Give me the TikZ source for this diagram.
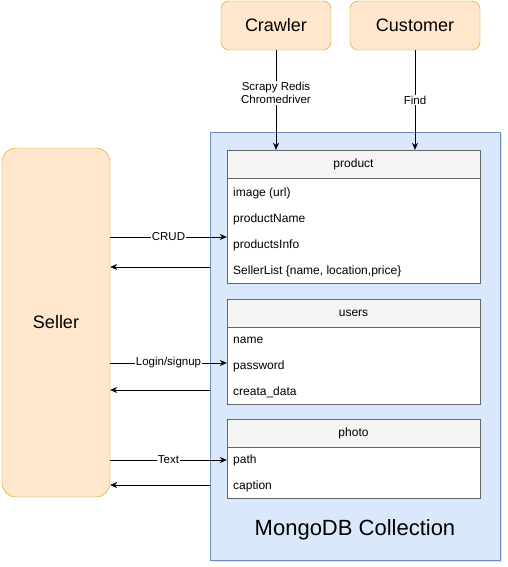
\documentclass[tikz,border=0pt]{standalone}
\usepackage{fontspec}
\setmainfont{Liberation Sans}
\usetikzlibrary{arrows.meta,positioning,shadows}
\definecolor{actorfill}{RGB}{255,230,204}
\definecolor{actordraw}{RGB}{215,155,0}
\definecolor{mongofill}{RGB}{218,232,252}
\definecolor{mongodraw}{RGB}{108,142,191}
\definecolor{headfill}{RGB}{245,245,245}
\definecolor{tabledraw}{RGB}{102,102,102}

\begin{document}
\begin{tikzpicture}[x=1pt,y=-1pt,
    actor/.style={draw=actordraw, fill=actorfill, rounded corners=8pt, inner sep=0pt, font=\fontsize{18}{21}\selectfont},
    table/.style={draw=tabledraw, fill=white, minimum width=253pt, inner sep=0pt},
    tablehead/.style={draw=tabledraw, fill=headfill, minimum width=253pt, minimum height=28pt, inner sep=0pt, font=\fontsize{12}{14}\selectfont},
    field/.style={anchor=west, inner sep=0pt, font=\fontsize{12}{14}\selectfont},
    lbl/.style={fill=white, inner sep=1pt, font=\fontsize{11.5}{13.5}\selectfont},
    arr/.style={-{Stealth[length=7pt,width=6pt]}, semithick}]

    \useasboundingbox (0,0) rectangle (507,567);

    % actors
    \node[actor, minimum width=110pt, minimum height=49pt] (crawler) at (276,25.5) {Crawler};
    \node[actor, minimum width=130pt, minimum height=49pt] (customer) at (415,25.5) {Customer};
    \node[actor, rounded corners=14pt, minimum width=108pt, minimum height=349pt] (seller) at (56,322.5) {Seller};

    % collection
    \node[draw=mongodraw, fill=mongofill, minimum width=290pt, minimum height=428pt, inner sep=0pt,
          drop shadow={opacity=0.25, shadow xshift=2pt, shadow yshift=-2pt}] (mongo) at (355,346) {};
    \node[font=\fontsize{22}{26}\selectfont] (mongoTitle) at (355,530) {MongoDB Collection};

    % product
    \node[table, minimum height=133pt] (product) at (353.5,216.5) {};
    \node[tablehead] (productHead) at (353.5,164) {product};
    \node[field] (productImage) at (233,193) {image (url)};
    \node[field] (productName) at (233,219) {productName};
    \node[field] (productInfo) at (233,245) {productsInfo};
    \node[field] (productSeller) at (233,271) {SellerList \{name, location,price\}};

    % users
    \node[table, minimum height=104pt] (users) at (353.5,352) {};
    \node[tablehead] (usersHead) at (353.5,313) {users};
    \node[field] (usersName) at (233,340) {name};
    \node[field] (usersPass) at (233,366) {password};
    \node[field] (usersDate) at (233,392) {creata\_data};

    % photo
    \node[table, minimum height=78pt] (photo) at (353.5,459) {};
    \node[tablehead] (photoHead) at (353.5,433) {photo};
    \node[field] (photoPath) at (233,460) {path};
    \node[field] (photoCaption) at (233,486) {caption};

    % connectors
    \draw[arr] (crawler) -- node[lbl, align=center, pos=0.43] {Scrapy Redis\\Chromedriver} (crawler |- product.north);
    \draw[arr] (customer) -- node[lbl] {Find} (customer |- product.north);

    \coordinate (crudRow) at (0,237);
    \coordinate (crudBack) at (0,267);
    \coordinate (loginRow) at (0,363);
    \coordinate (loginBack) at (0,390);
    \coordinate (textRow) at (0,460);
    \coordinate (textBack) at (0,485);

    \draw[arr] (seller.east |- crudRow) -- node[lbl] {CRUD} (product.west |- crudRow);
    \draw[arr] (mongo.west |- crudBack) -- (seller.east |- crudBack);
    \draw[arr] (seller.east |- loginRow) -- node[lbl] {Login/signup} (users.west |- loginRow);
    \draw[arr] (mongo.west |- loginBack) -- (seller.east |- loginBack);
    \draw[arr] (seller.east |- textRow) -- node[lbl] {Text} (photo.west |- textRow);
    \draw[arr] (mongo.west |- textBack) -- (seller.east |- textBack);

\end{tikzpicture}
\end{document}
